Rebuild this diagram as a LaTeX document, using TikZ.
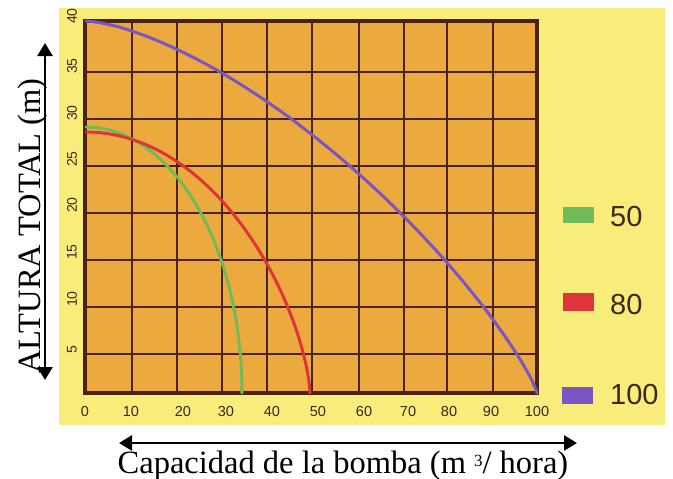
\documentclass[tikz,border=0pt]{standalone}
\usepackage{fontspec}
\setmainfont{Liberation Serif}
\newfontfamily\axisfont{Liberation Sans}
\usetikzlibrary{arrows.meta}
\definecolor{panel}{RGB}{248,236,122}
\definecolor{plotbg}{RGB}{236,170,62}
\definecolor{gridc}{RGB}{74,34,24}
\definecolor{cgreen}{RGB}{112,186,90}
\definecolor{cred}{RGB}{222,52,58}
\definecolor{cpurple}{RGB}{122,86,196}
\definecolor{labc}{RGB}{60,40,30}
\begin{document}
\begin{tikzpicture}[x=1pt,y=-1pt,
  gridline/.style={draw=gridc,line width=2.4pt},
  plotframe/.style={draw=gridc,line width=4pt},
  curve/.style={line width=3pt,line cap=round,line join=round},
  ylab/.style={font=\axisfont\fontsize{14}{15}\selectfont,text=labc,rotate=90,inner sep=0pt},
  xlab/.style={font=\axisfont\fontsize{14.5}{15}\selectfont,text=labc,inner sep=0pt},
  legtext/.style={font=\axisfont\fontsize{29}{30}\selectfont,text=labc,anchor=west,inner sep=0pt},
  axtitle/.style={font=\fontsize{32.5}{34}\selectfont,text=black,anchor=base,inner sep=0pt},
  dimarrow/.style={line width=2.6pt,{Triangle[length=13pt,width=15pt]}-{Triangle[length=13pt,width=15pt]}}
]
\useasboundingbox (0,0) rectangle (673,479);
\fill[white] (0,0) rectangle (673,479);
\fill[panel] (59,8) rectangle (665,425);
\fill[plotbg] (85,21) rectangle (537,393);
% grid
\foreach \x in {132,177,222,267,312,359,404,447,493}
  \draw[gridline] (\x,21) -- (\x,393);
\foreach \y in {72,119,166,213,260,307,354}
  \draw[gridline] (85,\y) -- (537,\y);
\draw[plotframe] (85,21) rectangle (537,393);
% curves
\draw[curve,cgreen] plot[domain=0:90,samples=80,variable=\t]
  ({86+156*sin(\t)},{393-266*cos(\t)});
\draw[curve,cred] (86,132) -- plot[domain=0.5:89.5,samples=80,variable=\t]
  ({86+224*sin(\t)},{393-261*pow(cos(\t),1.3333)}) -- (310,393);
\draw[curve,cpurple] (86,21) -- plot[domain=0.5:89.5,samples=90,variable=\t]
  ({86+451*pow(sin(\t),1.3333)},{393-372*pow(cos(\t),1.6667)}) -- (537,393);
% y labels
\node[ylab] (y40) at (72,16) {40};
\node[ylab] (y35) at (72,66) {35};
\node[ylab] (y30) at (72,113) {30};
\node[ylab] (y25) at (72,159) {25};
\node[ylab] (y20) at (72,205) {20};
\node[ylab] (y15) at (72,252) {15};
\node[ylab] (y10) at (72,299) {10};
\node[ylab] (y5) at (72,350) {5};
% x labels
\node[xlab] (x0) at (85,412) {0};
\node[xlab] (x10) at (131,412) {10};
\node[xlab] (x20) at (183,412) {20};
\node[xlab] (x30) at (226,412) {30};
\node[xlab] (x40) at (272,412) {40};
\node[xlab] (x50) at (318,412) {50};
\node[xlab] (x60) at (364,412) {60};
\node[xlab] (x70) at (408,412) {70};
\node[xlab] (x80) at (449,412) {80};
\node[xlab] (x90) at (491,412) {90};
\node[xlab] (x100) at (537,412) {100};
% legend
\fill[cgreen] (563,207) rectangle (594,223);
\fill[cred] (563,293) rectangle (594,311);
\fill[cpurple] (562,387) rectangle (593,404);
\node[legtext] (l50) at (610,217) {50};
\node[legtext] (l80) at (610,305) {80};
\node[legtext] (l100) at (610,395) {100};
% axis arrows and titles
\coordinate (vtop) at (45,43);
\coordinate (vbot) at (45,380);
\draw[dimarrow] (vtop) -- (vbot);
\coordinate (hl) at (119,443);
\coordinate (hr) at (577,443);
\draw[dimarrow] (hl) -- (hr);
\node[axtitle,rotate=90] (ytitle) at (40,226) {ALTURA TOTAL (m)};
\node[axtitle] (xtitle) at (343,473) {Capacidad de la bomba (m {\fontsize{17}{17}\selectfont\raisebox{7pt}{3}}/ hora)};
\end{tikzpicture}
\end{document}
